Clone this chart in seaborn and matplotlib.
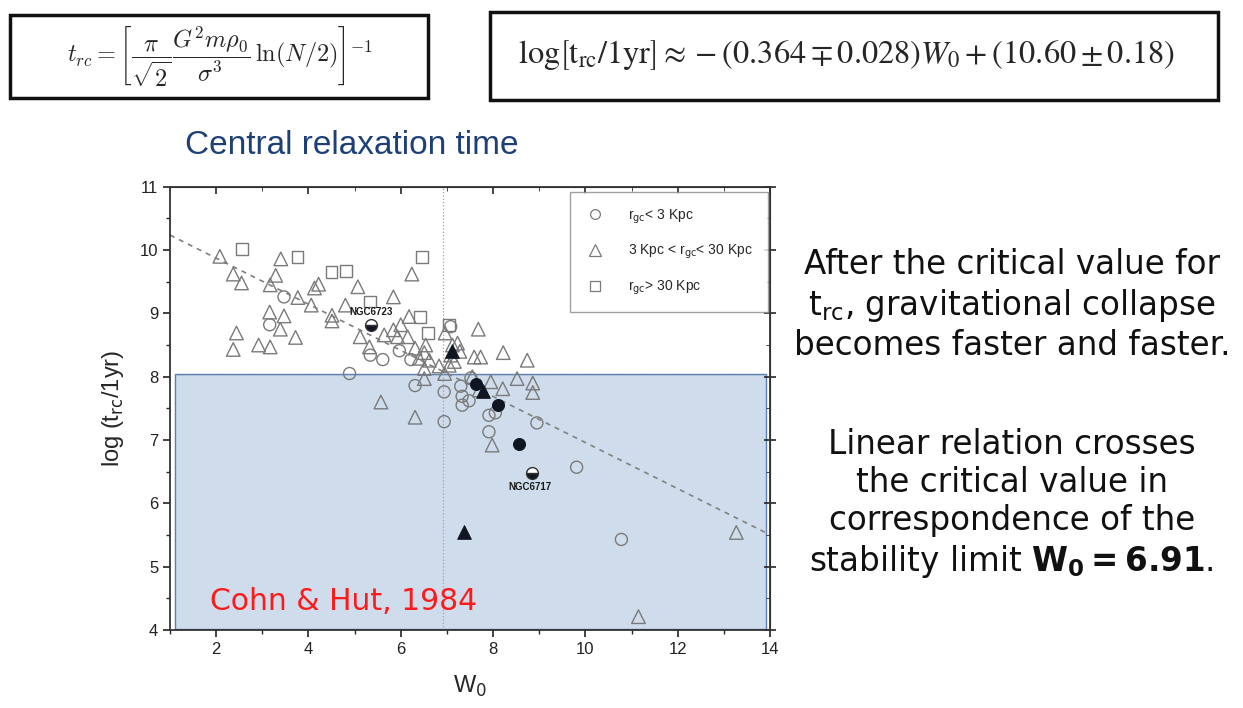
import numpy as np
import pandas as pd
import matplotlib
matplotlib.use("Agg")
import matplotlib.pyplot as plt
import seaborn as sns
from matplotlib.patches import Rectangle
from matplotlib.lines import Line2D

# ---------------- data ----------------
circ_x = [3.47, 3.16, 5.97, 5.61, 6.22, 5.34, 4.89, 6.31, 6.94, 6.94, 7.33, 7.48, 7.33, 7.91, 8.05,
          7.91, 8.95, 9.81, 10.78, 7.08, 7.30, 7.52]
circ_y = [9.26, 8.82, 8.41, 8.27, 8.27, 8.34, 8.05, 7.86, 7.76, 7.29, 7.69, 7.62, 7.55, 7.39, 7.43,
          7.13, 7.27, 6.57, 5.43, 8.79, 7.85, 7.98]

tri_x = [2.08, 2.37, 2.55, 3.40, 3.29, 3.17, 4.22, 4.13, 3.77, 4.06, 4.51, 4.51, 3.16, 3.47, 3.39,
         3.72, 2.44, 2.37, 2.92, 3.17, 5.07, 5.84, 4.80, 6.18, 6.00, 5.84, 5.64, 5.93, 6.15, 5.12,
         5.32, 6.31, 6.54, 6.51, 6.40, 6.62, 6.51, 6.83, 6.96, 7.12, 7.08, 7.05, 6.51, 6.24, 7.68,
         7.23, 7.28, 7.59, 7.73, 8.22, 8.74, 7.16, 6.95, 7.55, 7.95, 8.52, 8.86, 8.86, 8.21, 7.70,
         5.57, 6.31, 7.98, 13.27, 11.15]
tri_y = [9.90, 9.62, 9.48, 9.86, 9.60, 9.45, 9.46, 9.40, 9.25, 9.13, 8.97, 8.88, 9.02, 8.96, 8.75,
         8.62, 8.69, 8.43, 8.50, 8.47, 9.42, 9.26, 9.13, 8.95, 8.82, 8.74, 8.66, 8.63, 8.63, 8.63,
         8.47, 8.45, 8.50, 8.38, 8.29, 8.26, 8.13, 8.17, 8.69, 8.50, 8.34, 8.18, 7.97, 9.62, 8.75,
         8.53, 8.40, 8.31, 8.31, 8.38, 8.26, 8.24, 8.05, 8.00, 7.92, 7.97, 7.90, 7.75, 7.81, 7.79,
         7.60, 7.36, 6.92, 5.54, 4.21]

sq_x = [2.56, 3.76, 4.50, 4.82, 5.34, 6.46, 6.42, 6.59, 7.05]
sq_y = [10.02, 9.89, 9.65, 9.67, 9.19, 9.89, 8.94, 8.69, 8.82]

fcirc_x = [7.64, 8.11, 8.56]
fcirc_y = [7.89, 7.55, 6.93]
ftri_x = [7.12, 7.78, 7.36]
ftri_y = [8.41, 7.77, 5.54]

named_x = [5.36, 8.85]
named_y = [8.82, 6.48]
named_lbl = ["NGC6723", "NGC6717"]

legend_labels = [r"r$_{\rm gc}$< 3 Kpc", r"3 Kpc < r$_{\rm gc}$< 30 Kpc", r"r$_{\rm gc}$> 30 Kpc"]

fit_slope, fit_icpt = -0.364, 10.60
w0_crit = 6.91
t_crit = 8.05

x_ticks = [2, 4, 6, 8, 10, 12, 14]
y_ticks = [4, 5, 6, 7, 8, 9, 10, 11]

# ---------------- figure ----------------
sns.set_style("ticks")
plt.rcParams['font.family'] = ['Liberation Sans', 'DejaVu Sans']

fig = plt.figure(figsize=(12.43, 7.08), dpi=100)
ax = fig.add_axes([170/1243, 78/708, 600/1243, 443.3/708])
ax.set_xlim(1, 14)
ax.set_ylim(4, 11)

# shaded region
ax.add_patch(Rectangle((1.1, 4.02), 13.92 - 1.1, t_crit - 4.02, facecolor='#cfdcec',
                       edgecolor='#5b7fb0', linewidth=1.0, zorder=0))
ax.axhline(t_crit - 0.03, xmin=0.01, xmax=0.99, color='#9fb3cc', ls=':', lw=0.8, zorder=0.5)

# reference lines
ax.axvline(w0_crit, color='#a0a0a0', ls=':', lw=0.9, zorder=1)
xx = np.array([1, 14])
sns.lineplot(x=xx, y=fit_slope * xx + fit_icpt, ax=ax, color='#808080',
             linestyle=(0, (3, 3)), lw=1.2, zorder=2)

edge = '#7a7a7a'
def open_scatter(x, y, marker, s):
    n0 = len(ax.collections)
    sns.scatterplot(x=x, y=y, marker=marker, s=s, ax=ax, color=edge, zorder=3)
    for c in ax.collections[n0:]:
        c.set_facecolor('none')
        c.set_edgecolor(edge)
        c.set_linewidth(1.0)

open_scatter(circ_x, circ_y, 'o', 75)
open_scatter(tri_x, tri_y, '^', 95)
open_scatter(sq_x, sq_y, 's', 70)

sns.scatterplot(x=fcirc_x, y=fcirc_y, marker='o', s=75, color='#101522', edgecolor='#101522', ax=ax, zorder=4)
sns.scatterplot(x=ftri_x, y=ftri_y, marker='^', s=95, color='#101522', edgecolor='#101522', ax=ax, zorder=4)

for x, y, lbl, dy in zip(named_x, named_y, named_lbl, [0.2, -0.22]):
    ax.plot(x, y, marker='o', ms=8.5, fillstyle='bottom', color='#101522',
            markerfacecoloralt='white', markeredgecolor='#303030', ls='none', zorder=5)
    ax.text(x + (0.0 if dy > 0 else -0.05), y + dy, lbl, ha='center', va='center',
            fontsize=7, fontweight='bold', color='#1a1a1a', zorder=6)

# axes styling
ax.set_xticks(x_ticks)
ax.set_yticks(y_ticks)
ax.set_xticks(np.arange(1, 14, 2), minor=True)
ax.set_yticks(np.arange(4.5, 11, 1), minor=True)
ax.tick_params(axis='both', which='major', direction='out', length=5, width=1.2,
               labelsize=12, colors='#222222')
ax.tick_params(axis='both', which='minor', direction='out', length=3, width=1.0)
for side in ['left', 'right', 'top', 'bottom']:
    ax.spines[side].set_visible(True)
    ax.spines[side].set_linewidth(1.3)
    ax.spines[side].set_color('#333333')
sec_top = ax.secondary_xaxis('top')
sec_top.set_xticks(x_ticks)
sec_top.set_xticks(np.arange(1, 14, 2), minor=True)
sec_top.tick_params(direction='in', length=5, width=1.2, labeltop=False)
sec_top.tick_params(which='minor', direction='in', length=3)
sec_top.set_xticklabels([])
sec_r = ax.secondary_yaxis('right')
sec_r.set_yticks(y_ticks)
sec_r.set_yticks(np.arange(4.5, 11, 1), minor=True)
sec_r.tick_params(direction='inout', length=8, width=1.2)
sec_r.tick_params(which='minor', direction='in', length=3)
sec_r.set_yticklabels([])

ax.set_xlabel(r"W$_0$", fontsize=17, labelpad=12)
ax.set_ylabel(r"log (t$_{\rm rc}$/1yr)", fontsize=17, labelpad=10)

# legend
handles = [Line2D([], [], marker=m, ls='none', markerfacecolor='none', markeredgecolor=edge,
                  markersize=ms, markeredgewidth=0.9) for m, ms in [('o', 7), ('^', 8), ('s', 6.5)]]
leg = ax.legend(handles, legend_labels, loc='upper right', bbox_to_anchor=(0.997, 0.988),
                borderaxespad=0, fontsize=10, labelspacing=1.25, handletextpad=1.6,
                borderpad=1.1, frameon=True, fancybox=False, handlelength=1.5)
leg.get_frame().set_edgecolor('#888888')
leg.get_frame().set_linewidth(1.0)

ax.text(0.067, 0.045, "Cohn & Hut, 1984", transform=ax.transAxes, color='#ff1a1a',
        fontsize=21.5, family='DejaVu Sans', ha='left', va='baseline')

# title & side text
fig.text(0.283, 0.795, "Central relaxation time", color='#1e4079', fontsize=24,
         ha='center', va='center')
fig.text(0.814, 0.569, "After the critical value for\n" + r"t$_{\rm rc}$, gravitational collapse" +
         "\nbecomes faster and faster.", ha='center', va='center', fontsize=23.5,
         family='DejaVu Sans', linespacing=1.2, color='#111111')
fig.text(0.814, 0.288, "Linear relation crosses\nthe critical value in\ncorrespondence of the\n"
         r"stability limit $\mathbf{W_0}$$\mathbf{=6.91}$.", ha='center', va='center', fontsize=23.5,
         family='DejaVu Sans', linespacing=1.2, color='#111111')

# formula boxes
fig.add_artist(Rectangle((10/1243, 1 - 98/708), 418/1243, 83/708, transform=fig.transFigure,
                         fill=False, edgecolor='#111111', linewidth=2.5))
fig.add_artist(Rectangle((490/1243, 1 - 100/708), 728/1243, 88/708, transform=fig.transFigure,
                         fill=False, edgecolor='#111111', linewidth=2.5))
fig.text(0.177, 0.919, r"$t_{rc} = \left[\dfrac{\pi}{\sqrt{2}}\dfrac{G^2 m\rho_0}{\sigma^3}\,\ln(N/2)\right]^{-1}$",
         ha='center', va='center', fontsize=17.5, math_fontfamily='cm')
fig.text(0.681, 0.922, r"$\log\!\left[\mathrm{t_{rc}/1yr}\right]\approx -(0.364\mp 0.028)W_0+(10.60\pm 0.18)$",
         ha='center', va='center', fontsize=23.3, math_fontfamily='stix')

fig.savefig("out.png", dpi=100, facecolor='white')
